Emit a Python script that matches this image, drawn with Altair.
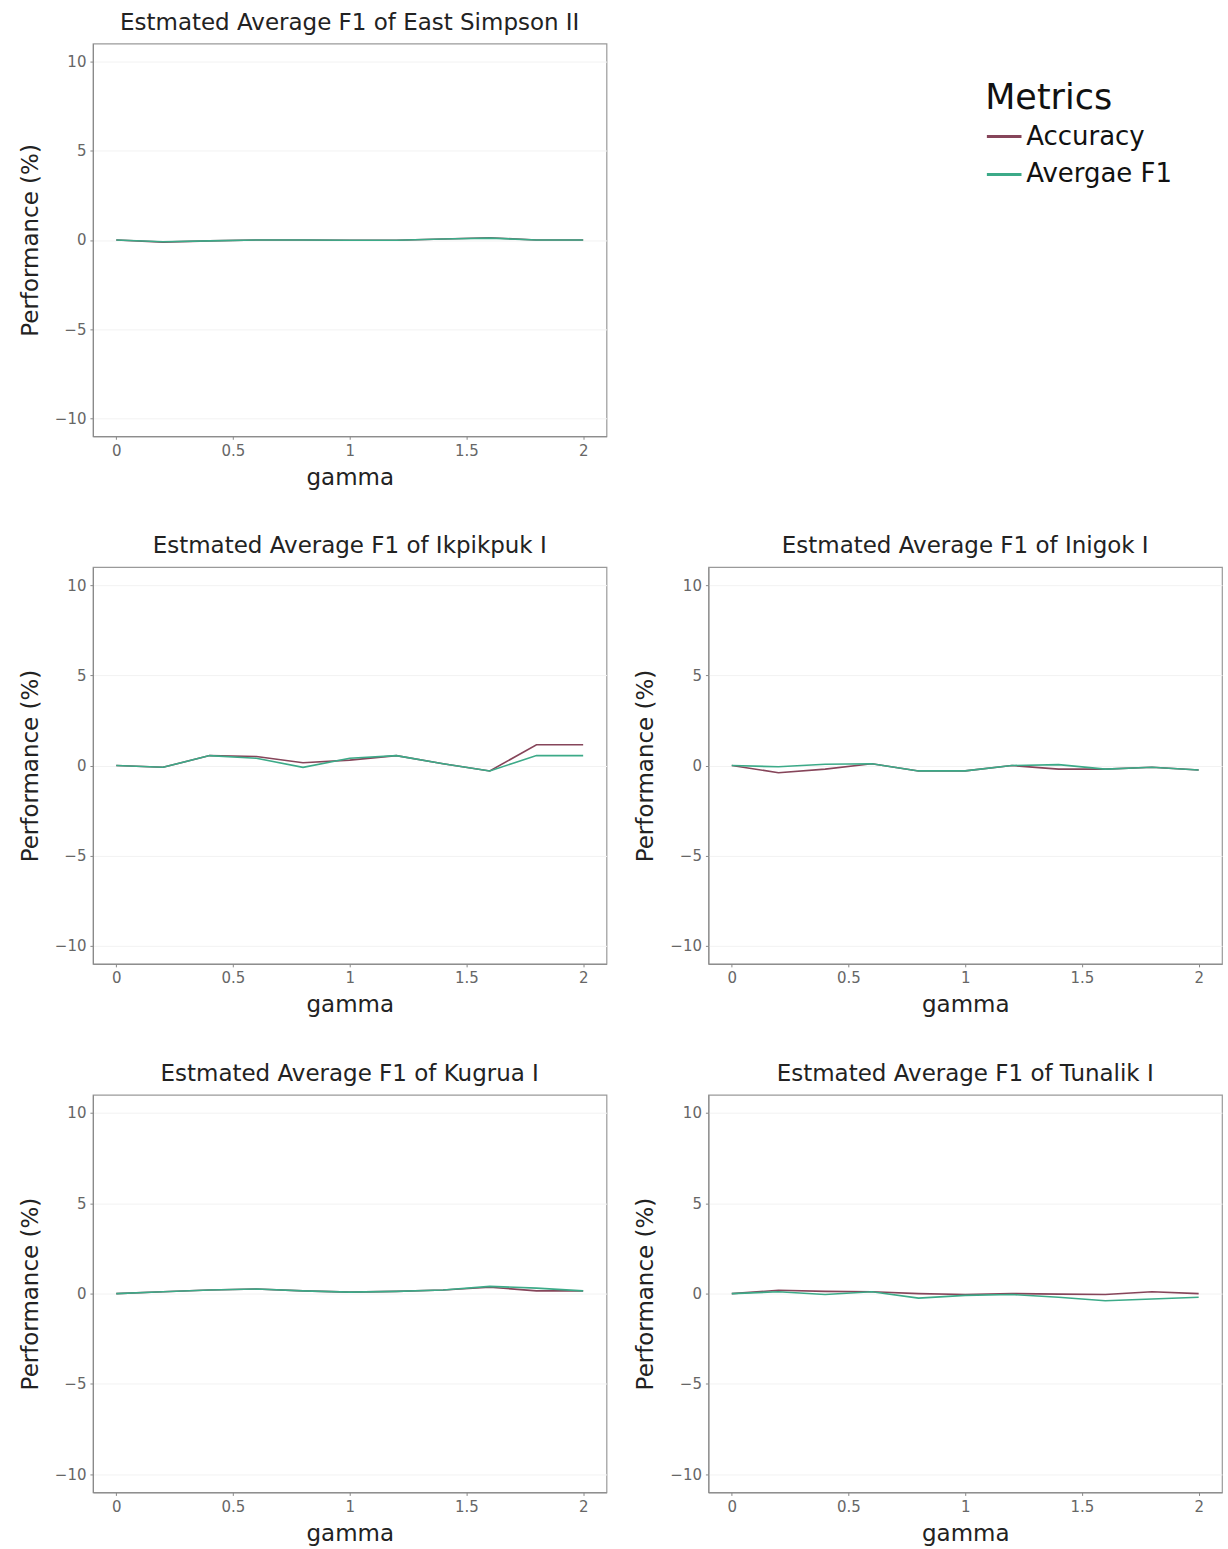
import altair as alt
import pandas as pd

gamma = [0.0, 0.2, 0.4, 0.6, 0.8, 1.0, 1.2, 1.4, 1.6, 1.8, 2.0]
metrics = ["Accuracy", "Avergae F1"]

titles = [
    "Estmated Average F1 of East Simpson II",
    "Estmated Average F1 of Ikpikpuk I",
    "Estmated Average F1 of Inigok I",
    "Estmated Average F1 of Kugrua I",
    "Estmated Average F1 of Tunalik I",
]

acc_east_simpson = [0.0, -0.12, -0.05, 0.0, 0.0, -0.02, -0.02, 0.05, 0.12, 0.0, 0.0]
f1_east_simpson = [0.0, -0.1, -0.05, 0.0, 0.0, -0.02, -0.02, 0.05, 0.1, 0.0, 0.0]

acc_ikpikpuk = [0.0, -0.1, 0.55, 0.5, 0.15, 0.3, 0.55, 0.1, -0.3, 1.15, 1.15]
f1_ikpikpuk = [0.0, -0.1, 0.55, 0.4, -0.1, 0.4, 0.55, 0.1, -0.3, 0.55, 0.55]

acc_inigok = [0.0, -0.4, -0.2, 0.1, -0.3, -0.3, 0.0, -0.2, -0.2, -0.1, -0.25]
f1_inigok = [0.0, -0.07, 0.07, 0.1, -0.3, -0.3, 0.0, 0.05, -0.2, -0.1, -0.25]

acc_kugrua = [0.0, 0.1, 0.2, 0.25, 0.15, 0.08, 0.12, 0.2, 0.35, 0.15, 0.15]
f1_kugrua = [0.0, 0.1, 0.2, 0.25, 0.15, 0.08, 0.12, 0.2, 0.4, 0.3, 0.15]

acc_tunalik = [0.0, 0.18, 0.12, 0.1, 0.0, -0.05, 0.0, -0.03, -0.05, 0.1, 0.0]
f1_tunalik = [0.0, 0.1, -0.05, 0.1, -0.25, -0.1, -0.05, -0.2, -0.4, -0.3, -0.2]

ACC_COLOR = "#86455a"
F1_COLOR = "#3caa88"

FONT = "DejaVu Sans"


def panel(title, acc, f1, height, show_legend=False):
    df = pd.DataFrame({
        "gamma": gamma * 2,
        "value": acc + f1,
        "Metrics": [metrics[0]] * len(gamma) + [metrics[1]] * len(gamma),
    })
    if show_legend:
        legend = alt.Legend(
            orient="none", legendX=893, legendY=37,
            title="Metrics", titleFontSize=35, titleFont=FONT, titleFontWeight="normal",
            titleColor="#111", labelFontSize=26, labelFont=FONT, labelColor="#111",
            symbolType="stroke", symbolStrokeWidth=3, symbolSize=1200,
            rowPadding=6, titlePadding=2, labelOffset=3,
        )
    else:
        legend = None
    return (
        alt.Chart(df, title=alt.TitleParams(title, fontSize=23, font=FONT, fontWeight="normal",
                                            color="#222", offset=9))
        .mark_line(strokeWidth=1.6)
        .encode(
            x=alt.X("gamma:Q", scale=alt.Scale(domain=[-0.1, 2.1], nice=False, zero=False),
                    axis=alt.Axis(values=[0, 0.5, 1, 1.5, 2], labelExpr="datum.value + ''",
                                  title="gamma", grid=False)),
            y=alt.Y("value:Q", scale=alt.Scale(domain=[-11, 11], nice=False),
                    axis=alt.Axis(values=[-10, -5, 0, 5, 10], title="Performance (%)",
                                  grid=True, gridColor="#f2f2f2")),
            color=alt.Color("Metrics:N", scale=alt.Scale(domain=metrics, range=[ACC_COLOR, F1_COLOR]),
                            legend=legend),
        )
        .properties(width=514, height=height)
    )


p1 = panel(titles[0], acc_east_simpson, f1_east_simpson, 393, True)
p2 = panel(titles[1], acc_ikpikpuk, f1_ikpikpuk, 397)
p3 = panel(titles[2], acc_inigok, f1_inigok, 397)
p4 = panel(titles[3], acc_kugrua, f1_kugrua, 398)
p5 = panel(titles[4], acc_tunalik, f1_tunalik, 398)

chart = (
    alt.vconcat(
        p1,
        alt.hconcat(p2, p3, spacing=26),
        alt.hconcat(p4, p5, spacing=26),
        spacing=44,
    )
    .resolve_scale(color="independent")
    .configure(padding={"left": 18, "top": 10, "right": 5, "bottom": 5})
    .configure_view(stroke="#9a9a9a", strokeWidth=1.2)
    .configure_axis(
        labelFont=FONT, labelFontSize=15, labelColor="#666",
        titleFont=FONT, titleFontSize=23, titleFontWeight="normal", titleColor="#222",
        domainColor="#888", tickColor="#888", tickSize=3, labelPadding=4,
    )
    .configure_axisX(titlePadding=8)
    .configure_axisY(titlePadding=12)
)

chart.save("out.html", embed_options={"renderer": "svg", "actions": False})
